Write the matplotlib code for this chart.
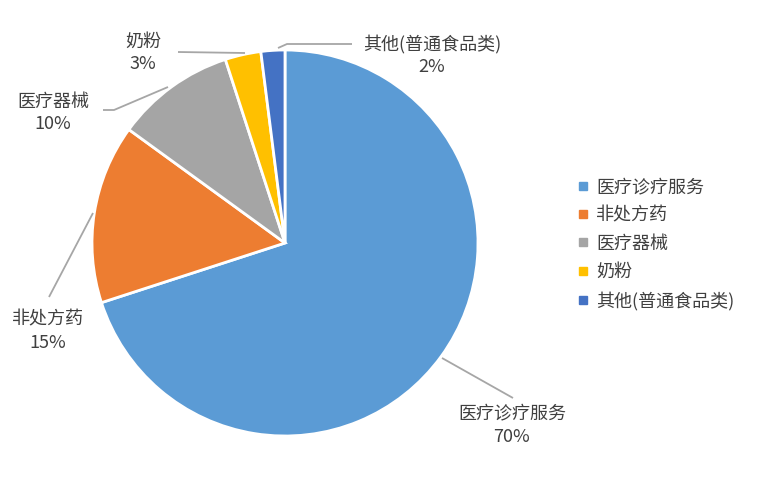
import matplotlib
matplotlib.use("Agg")
import matplotlib.pyplot as plt
from matplotlib.lines import Line2D

plt.rcParams['font.family'] = ['Noto Sans CJK SC', 'DejaVu Sans']

# data
categories = ['医疗诊疗服务', '非处方药', '医疗器械', '奶粉', '其他(普通食品类)']
shares = [70, 15, 10, 3, 2]
colors = ['#5B9BD5', '#ED7D31', '#A5A5A5', '#FFC000', '#4472C4']

W, H = 757, 488
fig = plt.figure(figsize=(W / 100, H / 100), dpi=100)
ax = fig.add_axes([0, 0, 1, 1])


def py(y):
    # pixel y (from top) to data y
    return H - y


wedges, _ = ax.pie(shares, colors=colors, startangle=90, counterclock=False,
                   center=(285, py(243)), radius=193,
                   wedgeprops=dict(edgecolor='white', linewidth=2))
ax.set_xlim(0, W)
ax.set_ylim(0, H)
ax.set_aspect('equal')
ax.axis('off')

# label positions (text centre, leader line points) in pixels
label_pos = [
    (512, 413, 437, [(442, 358), (513, 398)]),
    (48, 319, 343, [(93, 213), (49, 297)]),
    (53, 102, 124, [(168, 87), (114, 110), (103, 110)]),
    (143, 42, 64, [(245, 53), (178, 52)]),
    (432, 44, 67, [(278, 48), (287, 44), (352, 44)]),
]
txt_color = '#404040'
fs = 13
for cat, val, (x, y1, y2, pts) in zip(categories, shares, label_pos):
    ax.text(x, py(y1), cat, ha='center', va='center', fontsize=fs, color=txt_color)
    ax.text(x, py(y2), f'{val}%', ha='center', va='center', fontsize=fs, color=txt_color)
    ax.plot([p[0] for p in pts], [py(p[1]) for p in pts], color='#A6A6A6', lw=1.3,
            solid_capstyle='butt')

handles = [Line2D([], [], marker='s', color=c, ls='none', markersize=6) for c in colors]
leg = ax.legend(handles, categories, loc='upper left',
                bbox_to_anchor=(571 / W, 1 - 171 / H), frameon=False,
                fontsize=fs, handlelength=0.5, handletextpad=0.5,
                labelspacing=0.57, borderaxespad=0)
for t in leg.get_texts():
    t.set_color(txt_color)

fig.savefig('out.png', dpi=100, facecolor='white')
